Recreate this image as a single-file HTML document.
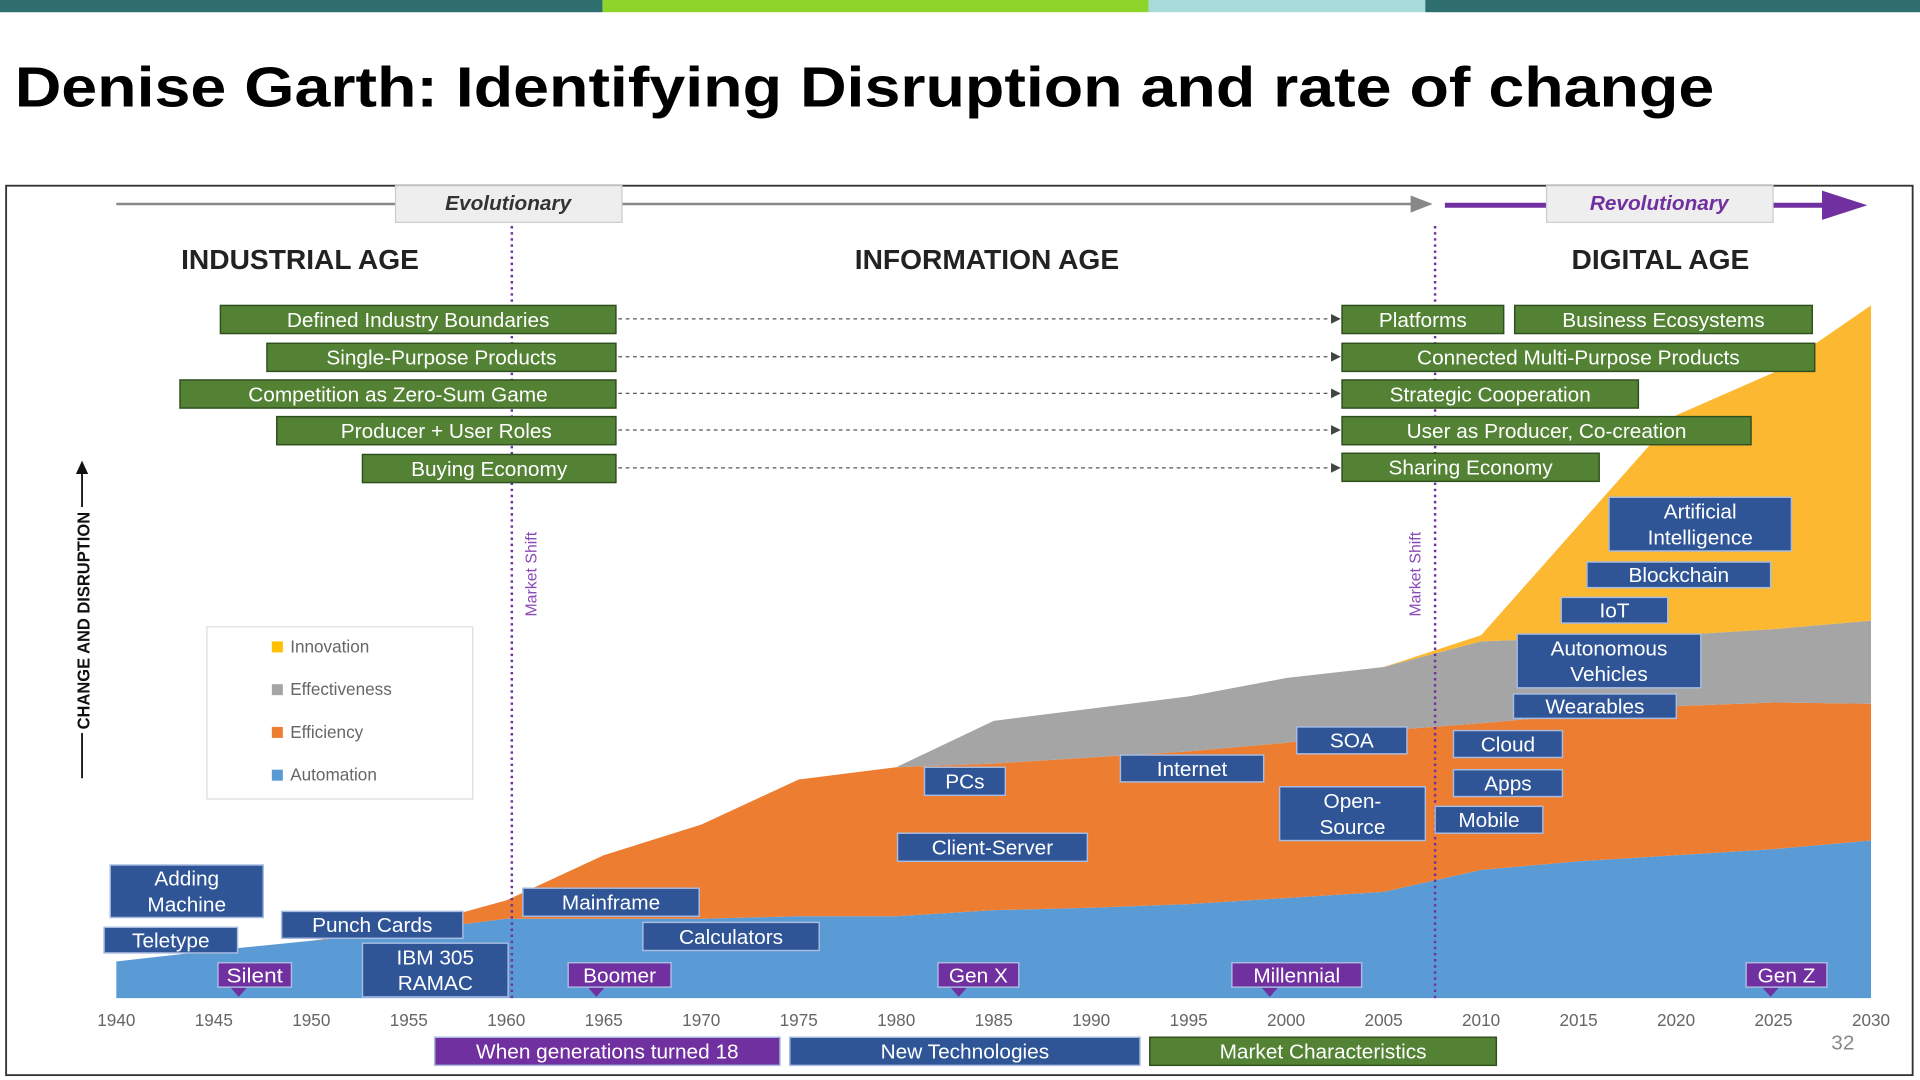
<!DOCTYPE html>
<html><head><meta charset="utf-8"><style>
html,body{margin:0;padding:0;background:#fff;width:1920px;height:1080px;overflow:hidden}
svg{display:block}
text{font-family:"Liberation Sans",sans-serif}
</style></head><body>
<svg id="s" width="1920" height="1080" viewBox="0 0 1568 884" preserveAspectRatio="none" xmlns="http://www.w3.org/2000/svg">
<g>
<rect x="0" y="0" width="492" height="10" fill="#2e6e6e"/>
<rect x="492" y="0" width="446" height="10" fill="#8fd42a"/>
<rect x="938" y="0" width="226" height="10" fill="#a8dcdc"/>
<rect x="1164" y="0" width="404" height="10" fill="#2e6e6e"/>
</g>
<text x="12" y="87" font-size="46" font-weight="bold" fill="#000" textLength="1388" lengthAdjust="spacingAndGlyphs">Denise Garth:  Identifying Disruption and rate of change</text>
<rect x="5" y="152" width="1557" height="728" fill="#fff" stroke="#333" stroke-width="1.5"/>
<g id="areas"></g>
<g id="overlay">
<line x1="95" y1="167" x2="1160" y2="167" stroke="#888" stroke-width="2"/>
<polygon points="1152,160 1170,167 1152,174" fill="#888"/>
<rect x="323" y="152" width="185" height="30" fill="#eee" stroke="#ccc"/>
<text x="415" y="172" text-anchor="middle" font-size="17" font-weight="bold" font-style="italic" fill="#333">Evolutionary</text>
<line x1="1180" y1="168" x2="1495" y2="168" stroke="#7030a0" stroke-width="4"/>
<polygon points="1488,156 1525,168 1488,180" fill="#7030a0"/>
<rect x="1263" y="152" width="185" height="30" fill="#eee" stroke="#ccc"/>
<text x="1355" y="172" text-anchor="middle" font-size="17" font-weight="bold" font-style="italic" fill="#7030a0">Revolutionary</text>
<text x="245" y="220" text-anchor="middle" font-size="23" font-weight="bold" fill="#222">INDUSTRIAL AGE</text>
<text x="806" y="220" text-anchor="middle" font-size="23" font-weight="bold" fill="#222">INFORMATION AGE</text>
<text x="1356" y="220" text-anchor="middle" font-size="23" font-weight="bold" fill="#222">DIGITAL AGE</text>
<line x1="418" y1="185" x2="418" y2="817" stroke="#7030a0" stroke-width="2" stroke-dasharray="2,3"/>
<line x1="1172" y1="185" x2="1172" y2="817" stroke="#7030a0" stroke-width="2" stroke-dasharray="2,3"/>
<text transform="translate(438,470) rotate(-90)" text-anchor="middle" font-size="13" fill="#8a4ab8">Market Shift</text>
<text transform="translate(1160,470) rotate(-90)" text-anchor="middle" font-size="13" fill="#8a4ab8">Market Shift</text>
<g>
<line x1="67" y1="385" x2="67" y2="415" stroke="#111" stroke-width="1.5"/>
<polygon points="62,388 67,377 72,388" fill="#111"/>
<line x1="67" y1="600" x2="67" y2="637" stroke="#111" stroke-width="1.5"/>
<text transform="translate(73,508) rotate(-90)" text-anchor="middle" font-size="14" font-weight="bold" fill="#111" textLength="178" lengthAdjust="spacingAndGlyphs">CHANGE AND DISRUPTION</text>
</g>
<g>
<rect x="169" y="513" width="217" height="141" fill="#fff" stroke="#ddd"/>
<rect x="222" y="525" width="9" height="9" fill="#ffc000"/><text x="237" y="534" font-size="14" fill="#666">Innovation</text>
<rect x="222" y="560" width="9" height="9" fill="#a5a5a5"/><text x="237" y="569" font-size="14" fill="#666">Effectiveness</text>
<rect x="222" y="595" width="9" height="9" fill="#ed7d31"/><text x="237" y="604" font-size="14" fill="#666">Efficiency</text>
<rect x="222" y="630" width="9" height="9" fill="#5b9bd5"/><text x="237" y="639" font-size="14" fill="#666">Automation</text>
</g>
<text x="1505" y="859" text-anchor="middle" font-size="17" fill="#888">32</text>
</g>
<g id="ticks"></g>
<g id="boxes"></g>
</svg>
<script>
const years=[1940,1945,1950,1955,1960,1965,1970,1975,1980,1985,1990,1995,2000,2005,2010,2015,2020,2025,2030];
const automation=[30,39,47,55,65,65,65,67,67,72,74,77,82,87,105,112,117,122,129];
const efficiency=[0,0,0,3,15,52,77,112,122,120,123,125,127,132,120,120,122,120,112];
const effectiveness=[0,0,0,0,0,0,0,0,0,35,40,45,53,52,67,63,58,60,68];
const innovation=[0,0,0,0,0,0,0,0,0,0,0,0,0,0,5,92,180,210,258];
const tickLabels=["1940","1945","1950","1955","1960","1965","1970","1975","1980","1985","1990","1995","2000","2005","2010","2015","2020","2025","2030"];
const NS="http://www.w3.org/2000/svg";
const X0=95,X1=1528,Y0=817;
function xs(yr){return X0+(yr-1940)*(X1-X0)/90;}
function ys(v){return Y0-v;}
const series=[["automation",automation,"#5b9bd5"],["efficiency",efficiency,"#ed7d31"],["effectiveness",effectiveness,"#a5a5a5"],["innovation",innovation,"#fbb830"]];
const areas=document.getElementById('areas');
let base=years.map(()=>0);
series.forEach(s=>{
  const top=base.map((b,i)=>b+s[1][i]);
  let d="M"+years.map((y,i)=>xs(y)+","+ys(top[i])).join(" L");
  for(let i=years.length-1;i>=0;i--)d+=" L"+xs(years[i])+","+ys(base[i]);
  d+=" Z";
  const p=document.createElementNS(NS,'path');
  p.setAttribute('d',d);p.setAttribute('fill',s[2]);
  
  
  areas.appendChild(p);
  base=top;
});
const ticks=document.getElementById('ticks');
tickLabels.forEach((t,i)=>{
  const tx=document.createElementNS(NS,'text');
  tx.setAttribute('x',xs(years[i]));tx.setAttribute('y',840);
  tx.setAttribute('text-anchor','middle');tx.setAttribute('font-size','14');tx.setAttribute('fill','#666');
  tx.textContent=t;
  
  
  ticks.appendChild(tx);
});
const G="#548235",B="#2f5597",P="#7030a0";
const boxes=[
["Defined Industry Boundaries",180,250,323,23,G],["Single-Purpose Products",218,281,285,23,G],["Competition as Zero-Sum Game",147,311,356,23,G],["Producer + User Roles",226,341,277,23,G],["Buying Economy",296,372,207,23,G],
["Platforms",1096,250,132,23,G],["Business Ecosystems",1237,250,243,23,G],["Connected Multi-Purpose Products",1096,281,386,23,G],["Strategic Cooperation",1096,311,242,23,G],["User as Producer, Co-creation",1096,341,334,23,G],["Sharing Economy",1096,371,210,23,G],
["Artificial|Intelligence",1314,407,149,44,B],["Blockchain",1296,460,150,21,B],["IoT",1275,489,87,21,B],["Autonomous|Vehicles",1239,519,150,44,B],["Wearables",1236,568,133,20,B],["SOA",1059,595,90,22,B],["Cloud",1187,598,89,22,B],["Internet",915,618,117,22,B],["PCs",755,628,66,23,B],["Apps",1187,630,89,22,B],["Open-|Source",1045,644,119,44,B],["Mobile",1172,660,88,22,B],["Client-Server",733,682,155,23,B],["Adding|Machine",90,708,125,43,B],["Mainframe",427,727,144,23,B],["Punch Cards",230,746,148,22,B],["Calculators",525,755,144,23,B],["Teletype",85,759,109,21,B],["IBM 305|RAMAC",296,772,119,44,B],
["Silent",178,788,60,20,P],["Boomer",464,788,84,20,P],["Gen X",766,788,66,20,P],["Millennial",1006,788,106,20,P],["Gen Z",1426,788,66,20,P],
["When generations turned 18",355,849,282,23,P],["New Technologies",645,849,286,23,B],["Market Characteristics",939,849,283,23,G]];
const pointers=[[195,788],[487,788],[783,788],[1037,788],[1446,788]];
const bg=document.getElementById('boxes');
// dashed connectors
[261,292,322,352,383].forEach((yy,i)=>{
  const l=document.createElementNS(NS,'line');
  l.setAttribute('x1',505);l.setAttribute('x2',1088);l.setAttribute('y1',yy);l.setAttribute('y2',yy);
  l.setAttribute('stroke','#555');l.setAttribute('stroke-dasharray','3,3');
  
  
  bg.appendChild(l);
  const a=document.createElementNS(NS,'polygon');
  a.setAttribute('points',`1087,${yy-4} 1095,${yy} 1087,${yy+4}`);a.setAttribute('fill','#444');
  
  
  bg.appendChild(a);
});
pointers.forEach((p,i)=>{
  const t=document.createElementNS(NS,'polygon');
  t.setAttribute('points',`${p[0]-7},${p[1]+20} ${p[0]+7},${p[1]+20} ${p[0]},${p[1]+28}`);t.setAttribute('fill',P);
  
  
  bg.appendChild(t);
});
boxes.forEach(b=>{
  const g=document.createElementNS(NS,'g');
  const slug=b[0].replace(/\|/g,' ').toLowerCase().replace(/[^a-z0-9]+/g,'-').replace(/-+$/,'');
  
  
  const r=document.createElementNS(NS,'rect');
  r.setAttribute('x',b[1]);r.setAttribute('y',b[2]);r.setAttribute('width',b[3]);r.setAttribute('height',b[4]);
  r.setAttribute('fill',b[5]);r.setAttribute('stroke',b[5]==G?'#2f4f1e':'#a8bbe0');r.setAttribute('stroke-width','1.2');
  g.appendChild(r);
  const lines=b[0].split('|');
  const lh=21, n=lines.length;
  lines.forEach((ln,i)=>{
    const t=document.createElementNS(NS,'text');
    const cy=b[2]+b[4]/2+(i-(n-1)/2)*lh;
    t.setAttribute('x',b[1]+b[3]/2);t.setAttribute('y',cy+6);
    t.setAttribute('text-anchor','middle');t.setAttribute('font-size','17');t.setAttribute('fill','#fff');
    const est=ln.length*8.6;
    const maxw=b[3]-14;
    if(est>maxw){t.setAttribute('textLength',maxw);t.setAttribute('lengthAdjust','spacingAndGlyphs');}
    t.textContent=ln;
    g.appendChild(t);
  });
  bg.appendChild(g);
});
</script>
</body></html>
